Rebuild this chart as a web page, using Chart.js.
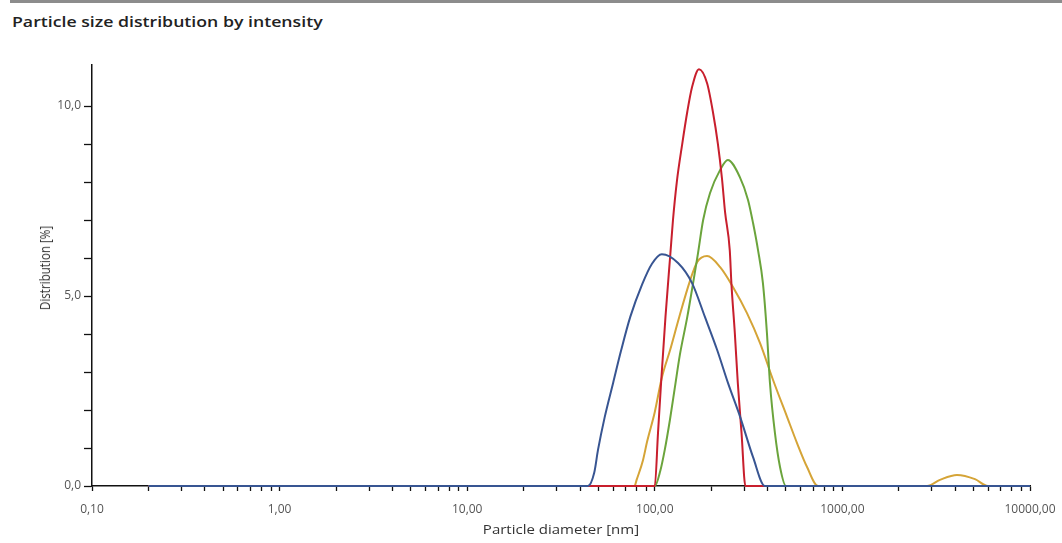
<!DOCTYPE html>
<html>
<head>
<meta charset="utf-8">
<title>Particle size distribution by intensity</title>
<script src="https://cdn.jsdelivr.net/npm/chart.js@4"></script>
<style>
	body {
		margin: 0;
		background: #ffffff;
		font-family: "Open Sans", sans-serif;
	}
	#wrap {
		position: relative;
		width: 1062px;
		height: 543px;
		overflow: hidden;
	}
	#topbar {
		position: absolute;
		left: 10px;
		top: 0;
		width: 1052px;
		height: 3px;
		background: #8c8c8c;
	}
	#title {
		position: absolute;
		left: 12px;
		top: 12px;
		font-size: 14.5px;
		font-weight: 600;
		color: #222222;
		transform-origin: 0 0;
		transform: scaleX(1.22);
		white-space: nowrap;
	}
	#ytitle {
		position: absolute;
		left: 45px;
		top: 268px;
		transform: translate(-50%, -50%) rotate(-90deg) scaleY(1.2);
		font-size: 11.6px;
		color: #333333;
		white-space: nowrap;
	}
	#xtitle {
		position: absolute;
		left: 561px;
		top: 529px;
		transform: translate(-50%, -50%) scaleX(1.22);
		font-size: 12.3px;
		color: #333333;
		white-space: nowrap;
	}
	canvas {
		position: absolute;
		left: 0;
		top: 0;
	}
</style>
</head>
<body>
<div id="wrap">
	<div id="topbar"></div>
	<div id="title">Particle size distribution by intensity</div>
	<canvas id="myChart" width="1062" height="543"></canvas>
	<div id="ytitle">Distribution [%]</div>
	<div id="xtitle">Particle diameter [nm]</div>
</div>
<script>
// Data block (sizes in nm, distribution in %)
const blueSizes = [0.2, 44, 47.5, 49.8, 54, 60, 66, 74, 85.5, 96.6, 109, 133, 158, 185, 215, 246, 285, 334, 386, 10000];
const blueValues = [0, 0, 0.34, 0.95, 1.8, 2.72, 3.55, 4.45, 5.3, 5.85, 6.1, 5.87, 5.34, 4.45, 3.58, 2.7, 1.82, 0.76, 0, 0];

const redSizes = [0.2, 100, 104, 108, 114, 121, 125, 131, 140, 149, 158, 172, 190, 204, 217, 228, 237, 251, 256, 267, 277, 290, 304, 10000];
const redValues = [0, 0, 1.39, 2.71, 4.45, 6.1, 7.0, 8.0, 9.0, 9.85, 10.5, 10.97, 10.6, 9.85, 9.0, 8.1, 7.2, 6.2, 5.34, 4.03, 2.71, 1.39, 0, 0];

const greenSizes = [0.2, 100, 107, 113, 120.5, 128, 136, 149, 160, 170, 181, 197, 223, 245, 284, 314, 334, 355, 377, 396, 411, 437, 465, 500, 10000];
const greenValues = [0, 0, 0.4, 0.95, 1.75, 2.6, 3.45, 4.45, 5.34, 6.13, 7.0, 7.71, 8.32, 8.58, 8.13, 7.53, 6.92, 6.21, 5.34, 4.03, 2.71, 1.39, 0.5, 0, 0];

const yellowSizes = [0.2, 78, 80, 86.5, 91, 100, 109, 121, 135, 154, 168, 190, 223, 261, 310, 364, 427, 507, 573, 648, 741, 2825, 3311, 4080, 5090, 5970, 10000];
const yellowValues = [0, 0, 0.16, 0.68, 1.17, 1.95, 2.85, 3.6, 4.45, 5.4, 5.89, 6.05, 5.76, 5.24, 4.55, 3.76, 2.79, 1.82, 1.13, 0.5, 0, 0, 0.16, 0.29, 0.18, 0, 0];

// axis ticks
const xDecades = [0.1, 1, 10, 100, 1000, 10000];
const xTickLabels = ["0,10", "1,00", "10,00", "100,00", "1000,00", "10000,00"];
const yLabelled = [0, 5, 10];
const yTickLabels = ["0,0", "5,0", "10,0"];

function toPoints(sizes, values) {
	return sizes.map(function (s, i) {
		return { x: s, y: values[i] };
	});
}

function mainChart() {
	const lineStyle = {
		borderWidth: 2,
		pointRadius: 0,
		fill: false,
		cubicInterpolationMode: "monotone",
		clip: 4,
	};

	const data = {
		datasets: [
			Object.assign({ label: "Measurement 1", data: toPoints(blueSizes, blueValues), borderColor: "#385592" }, lineStyle),
			Object.assign({ label: "Measurement 2", data: toPoints(redSizes, redValues), borderColor: "#c81f2d" }, lineStyle),
			Object.assign({ label: "Measurement 3", data: toPoints(greenSizes, greenValues), borderColor: "#6ba43c" }, lineStyle),
			Object.assign({ label: "Measurement 4", data: toPoints(yellowSizes, yellowValues), borderColor: "#d5a437" }, lineStyle),
		],
	};

	//options
	const options = {
		responsive: false,
		animation: false,
		layout: {
			padding: { left: 0, top: 65, right: 32, bottom: 0 },
		},
		plugins: {
			legend: { display: false },
			tooltip: { enabled: false },
		},
		scales: {
			x: {
				type: "logarithmic",
				min: 0.1,
				max: 10000,
				border: { display: true, color: "#111111", width: 1.5 },
				grid: {
					drawOnChartArea: false,
					drawTicks: true,
					tickLength: 5,
					tickWidth: 1.3,
					tickColor: "#111111",
				},
				afterBuildTicks: function (scale) {
					const ticks = [];
					xDecades.forEach(function (d, i) {
						ticks.push({ value: d });
						if (i < xDecades.length - 1) {
							for (let k = 2; k < 10; k++) {
								ticks.push({ value: d * k });
							}
						}
					});
					scale.ticks = ticks;
				},
				afterFit: function (scale) {
					// keep the plot edges fixed, the last label fits in the page margin
					scale.height = 57;
					scale.paddingLeft = 0;
					scale.paddingRight = 0;
				},
				ticks: {
					autoSkip: false,
					maxRotation: 0,
					padding: 11,
					color: "#555555",
					font: { family: "Open Sans", size: 12 },
					callback: function (value) {
						for (let i = 0; i < xDecades.length; i++) {
							if (Math.abs(value - xDecades[i]) < xDecades[i] * 1e-6) {
								return xTickLabels[i];
							}
						}
						return "";
					},
				},
			},
			y: {
				min: 0,
				max: 11.08,
				border: { display: true, color: "#111111", width: 1.5 },
				grid: {
					drawOnChartArea: false,
					drawTicks: true,
					tickLength: 8,
					tickWidth: 1.3,
					tickColor: "#111111",
				},
				afterBuildTicks: function (scale) {
					scale.ticks = scale.ticks.filter(function (t) {
						return t.value <= 10;
					});
				},
				afterFit: function (scale) {
					scale.width = 92;
					scale.paddingTop = 0;
					scale.paddingBottom = 0;
				},
				ticks: {
					stepSize: 1,
					padding: 3,
					color: "#555555",
					font: { family: "Open Sans", size: 12 },
					callback: function (value) {
						const i = yLabelled.indexOf(value);
						return i >= 0 ? yTickLabels[i] : "";
					},
				},
			},
		},
	};

	// Config Block
	const config = {
		type: "line",
		data: data,
		options: options,
	};

	// Render Block
	const myChart = new Chart(document.getElementById("myChart"), config);
}

mainChart();
</script>
</body>
</html>
